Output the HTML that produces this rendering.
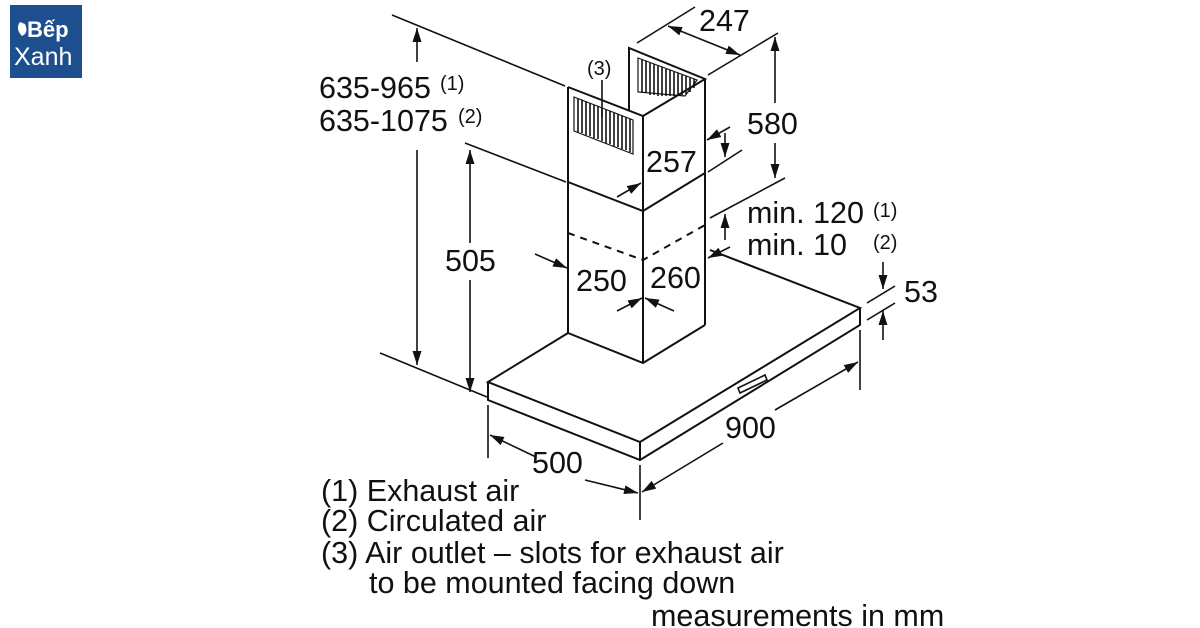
<!DOCTYPE html>
<html><head><meta charset="utf-8"><style>
html,body{margin:0;padding:0;background:#fff;width:1200px;height:628px;overflow:hidden}
svg{display:block}
text{font-family:"Liberation Sans",Arial,sans-serif;fill:#111}
</style></head><body>
<svg width="1200" height="628" viewBox="0 0 1200 628" xmlns="http://www.w3.org/2000/svg">
<defs>
<marker id="a" viewBox="0 0 10 10" refX="10" refY="5" markerWidth="14" markerHeight="14" orient="auto-start-reverse" markerUnits="userSpaceOnUse">
<path d="M0,1.8 L10,5 L0,8.2 z" fill="#111"/></marker>
</defs>
<!-- logo -->
<rect x="10" y="5" width="72" height="73" fill="#1d4f8f"/>
<text x="27" y="37" font-size="22" font-weight="bold" style="fill:#fff">Bếp</text>
<text x="14" y="65" font-size="25" style="fill:#fff">Xanh</text>
<path d="M20,22 q-5,7 2,14 q7,-3 3,-12 z" fill="#fff"/>

<g stroke="#111" stroke-width="2" fill="none">
<path d="M568,87 L643,116 L705,79 L629,48 L629,111"/>
<line x1="568" y1="87" x2="568" y2="333"/>
<line x1="643" y1="116" x2="643" y2="363"/>
<line x1="705" y1="79" x2="705" y2="325"/>
<path d="M568,182 L643,211 L705,173"/>
<path d="M568,233 L643,260 L705,225" stroke-dasharray="7,6"/>
<path d="M568,333 L643,363 L705,325"/>
<path d="M574,97 L633,120 L633,154 L574,131 z" stroke-width="1.2"/>
<path d="M638,58 L697,80 L685,96 L638,92 z" stroke-width="1.2"/>
</g>
<g stroke="#111" stroke-width="1.6">
<path d="M578,99 v33 M582,100 v33 M586,102 v33 M590,103 v33 M594,105 v33 M598,106 v33 M602,108 v33 M606,110 v33 M610,111 v33 M614,113 v33 M618,114 v33 M622,116 v33 M626,117 v33 M630,119 v33"/>
<path d="M642,60 v32 M646,61 v32 M650,63 v32 M654,64 v31 M658,66 v30 M662,67 v29 M666,69 v27 M670,70 v26 M674,72 v24 M678,73 v22 M682,75 v20 M686,76 v18 M690,78 v14 M694,79 v9"/>
</g>
<g stroke="#111" stroke-width="2" fill="none">
<path d="M568,333 L488,382 L640,442 L860,308 L710,250"/>
<path d="M488,382 L488,400 L640,460 L860,325 L860,308"/>
<line x1="640" y1="442" x2="640" y2="460"/>
<path d="M738,388 L765,375 L767,380 L740,393 z" stroke-width="1.6"/>
</g>
<g stroke="#111" stroke-width="1.6" fill="none">
<line x1="392" y1="15" x2="565" y2="86"/>
<line x1="380" y1="353" x2="487" y2="397"/>
<line x1="465" y1="143" x2="566" y2="182"/>
<line x1="637" y1="43" x2="695" y2="7"/>
<line x1="708" y1="75" x2="778" y2="33"/>
<line x1="708" y1="172" x2="742" y2="150"/>
<line x1="710" y1="218" x2="785" y2="178"/>
<line x1="867" y1="303" x2="895" y2="286"/>
<line x1="867" y1="320" x2="895" y2="303"/>
<line x1="860" y1="330" x2="860" y2="390"/>
<line x1="488" y1="405" x2="488" y2="458"/>
<line x1="640" y1="465" x2="640" y2="520"/>
<line x1="417" y1="28" x2="417" y2="62" marker-start="url(#a)"/>
<line x1="417" y1="150" x2="417" y2="365" marker-end="url(#a)"/>
<line x1="470" y1="150" x2="470" y2="243" marker-start="url(#a)"/>
<line x1="470" y1="280" x2="470" y2="392" marker-end="url(#a)"/>
<line x1="668" y1="26" x2="740" y2="55" marker-start="url(#a)" marker-end="url(#a)"/>
<line x1="775" y1="37" x2="775" y2="103" marker-start="url(#a)"/>
<line x1="775" y1="143" x2="775" y2="178" marker-end="url(#a)"/>
<line x1="730" y1="127" x2="707" y2="140" marker-end="url(#a)"/>
<line x1="725" y1="133" x2="725" y2="157" marker-end="url(#a)"/>
<line x1="617" y1="197" x2="641" y2="183" marker-end="url(#a)"/>
<line x1="725" y1="240" x2="725" y2="214" marker-end="url(#a)"/>
<line x1="730" y1="247" x2="708" y2="258" marker-end="url(#a)"/>
<line x1="535" y1="254" x2="567" y2="268" marker-end="url(#a)"/>
<line x1="617" y1="311" x2="642" y2="298" marker-end="url(#a)"/>
<line x1="674" y1="311" x2="645" y2="298" marker-end="url(#a)"/>
<line x1="883" y1="262" x2="883" y2="289" marker-end="url(#a)"/>
<line x1="883" y1="340" x2="883" y2="311" marker-end="url(#a)"/>
<line x1="775" y1="410" x2="858" y2="362" marker-end="url(#a)"/>
<line x1="723" y1="443" x2="642" y2="492" marker-end="url(#a)"/>
<line x1="536" y1="457" x2="490" y2="435" marker-end="url(#a)"/>
<line x1="585" y1="480" x2="638" y2="493" marker-end="url(#a)"/>
<line x1="602" y1="80" x2="602" y2="118"/>
</g>
<g font-size="30.5">
<text x="319" y="98">635-965</text>
<text x="319" y="131">635-1075</text>
<text x="445" y="271">505</text>
<text x="699" y="31">247</text>
<text x="747" y="134">580</text>
<text x="646" y="172">257</text>
<text x="747" y="223">min. 120</text>
<text x="747" y="255">min. 10</text>
<text x="576" y="291">250</text>
<text x="650" y="288">260</text>
<text x="904" y="302">53</text>
<text x="725" y="438">900</text>
<text x="532" y="473">500</text>
<text x="321" y="501">(1) Exhaust air</text>
<text x="321" y="531">(2) Circulated air</text>
<text x="321" y="563">(3) Air outlet – slots for exhaust air</text>
<text x="369" y="593">to be mounted facing down</text>
<text x="651" y="626">measurements in mm</text>
</g>
<g font-size="20">
<text x="440" y="90">(1)</text>
<text x="458" y="123">(2)</text>
<text x="587" y="75">(3)</text>
<text x="873" y="217">(1)</text>
<text x="873" y="249">(2)</text>
</g>
</svg>
</body></html>
